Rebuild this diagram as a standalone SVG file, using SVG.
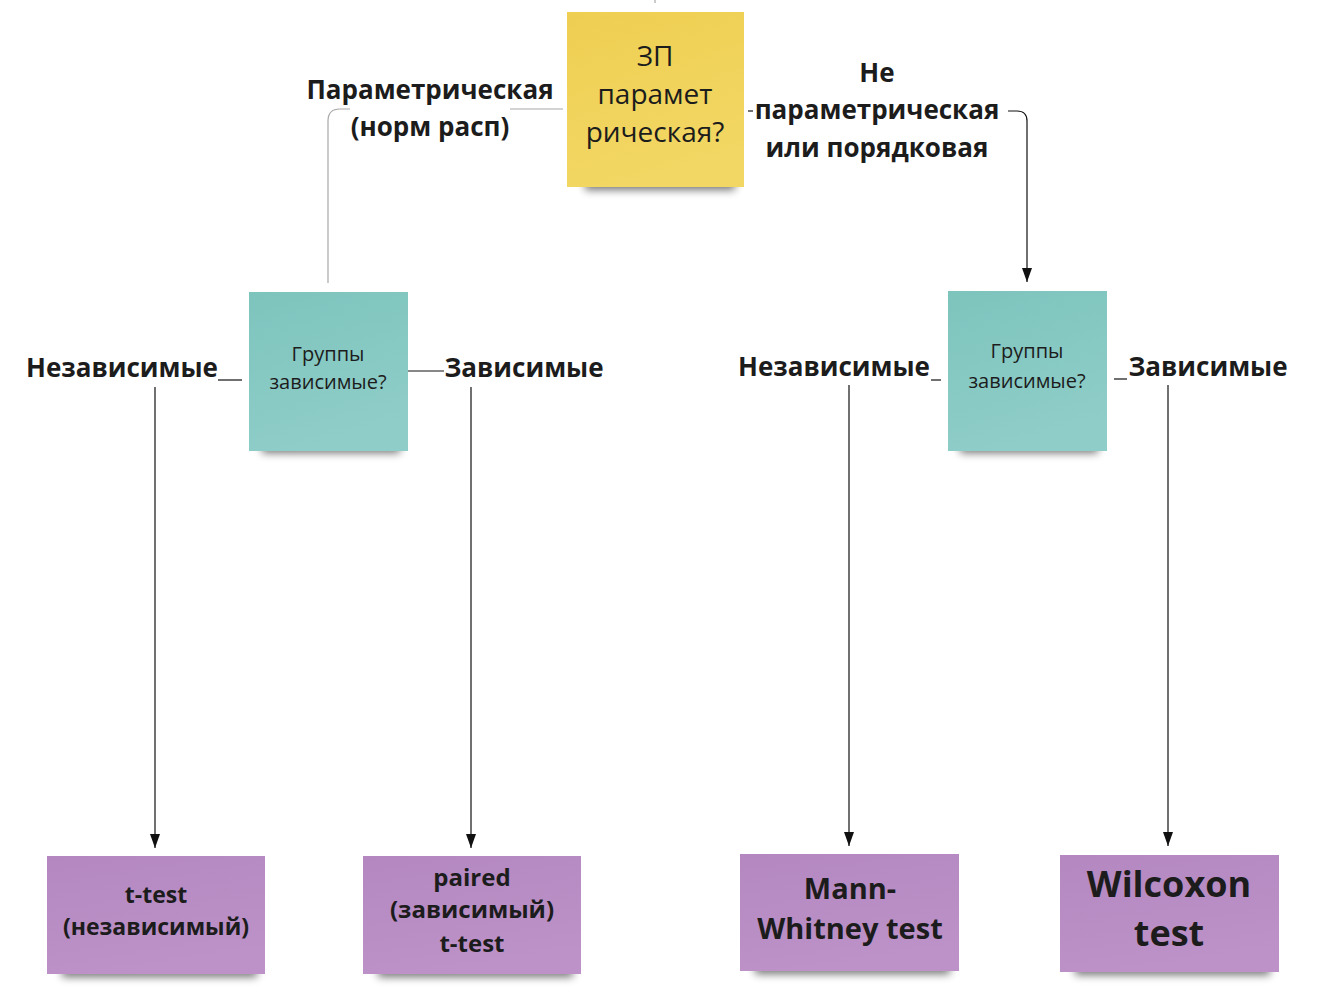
<svg xmlns="http://www.w3.org/2000/svg" width="1322" height="1006" viewBox="0 0 1322 1006">
<style>
.lbl{font-family:"Open Sans","Noto Sans","DejaVu Sans",sans-serif;font-weight:700;fill:#1c1c1c;text-anchor:middle}
.reg{font-family:"Open Sans","Noto Sans","DejaVu Sans",sans-serif;font-weight:400;fill:#1c1c1c;text-anchor:middle}
.con{fill:none;stroke:#111;stroke-width:1.2}
.grey{fill:none;stroke:#a8a8a8;stroke-width:1.2}
.shadow{fill:#000;opacity:0.55;filter:url(#blur)}
</style>
<defs>
<filter id="blur" x="-20%" y="-200%" width="140%" height="500%"><feGaussianBlur stdDeviation="4"/></filter>
<marker id="arr" markerUnits="userSpaceOnUse" markerWidth="14" markerHeight="10" refX="14" refY="5" orient="auto" viewBox="0 0 14 10"><path d="M0,0 L14,5 L0,10 Z" fill="#111"/></marker>
<linearGradient id="gy" x1="0" y1="0" x2="0.3" y2="1"><stop offset="0" stop-color="#efcf52"/><stop offset="1" stop-color="#f2d764"/></linearGradient>
<linearGradient id="gt" x1="0" y1="0" x2="0.3" y2="1"><stop offset="0" stop-color="#7dc4bd"/><stop offset="1" stop-color="#8fcdc8"/></linearGradient>
<linearGradient id="gp" x1="0" y1="0" x2="0.3" y2="1"><stop offset="0" stop-color="#b487c0"/><stop offset="1" stop-color="#bc92c8"/></linearGradient>
</defs>
<rect width="1322" height="1006" fill="#fff"/>

<g id="connectors">
<line x1="655" y1="0" x2="655" y2="3" class="grey"/>
<path class="grey" d="M563,109 H510"/>
<path class="grey" d="M350,109 H340 Q328,109 328,121 V283"/>
<path class="con" d="M748,111 H753"/>
<path class="con" d="M1008,111 H1017 Q1027,111 1027,121 V282" marker-end="url(#arr)"/>
<path class="con" d="M218,380 H242"/>
<path class="con" d="M155,387 V848" marker-end="url(#arr)"/>
<path class="con" d="M408,371 H444"/>
<path class="con" d="M471,387 V848" marker-end="url(#arr)"/>
<path class="con" d="M931,380 H941"/>
<path class="con" d="M849,385 V846" marker-end="url(#arr)"/>
<path class="con" d="M1114,379 H1127"/>
<path class="con" d="M1168,385 V846" marker-end="url(#arr)"/>
</g>

<g id="labels">
<text class="lbl" font-size="26" x="430" y="99">Параметрическая</text>
<text class="lbl" font-size="26" x="430" y="136">(норм расп)</text>
<text class="lbl" font-size="26" x="877" y="82">Не</text>
<text class="lbl" font-size="26" x="877" y="119">параметрическая</text>
<text class="lbl" font-size="26" x="877" y="157">или порядковая</text>
<text class="lbl" font-size="26" x="122" y="377">Независимые</text>
<text class="lbl" font-size="26" x="524" y="377">Зависимые</text>
<text class="lbl" font-size="26" x="834" y="376">Независимые</text>
<text class="lbl" font-size="26" x="1208" y="376">Зависимые</text>
</g>

<g id="node-zp">
<rect class="shadow" x="585" y="178" width="150" height="12"/>
<rect x="567" y="12" width="177" height="175" fill="url(#gy)"/>
<text class="reg" font-size="28" x="655" y="66">ЗП</text>
<text class="reg" font-size="28" x="655" y="104">парамет</text>
<text class="reg" font-size="28" x="655" y="142">рическая?</text>
</g>

<g id="node-groups-left">
<rect class="shadow" x="262" y="442" width="138" height="11"/>
<rect x="249" y="292" width="159" height="159" fill="url(#gt)"/>
<text class="reg" font-size="20" x="328" y="361">Группы</text>
<text class="reg" font-size="20" x="328" y="389">зависимые?</text>
</g>

<g id="node-groups-right">
<rect class="shadow" x="960" y="442" width="138" height="11"/>
<rect x="948" y="291" width="159" height="160" fill="url(#gt)"/>
<text class="reg" font-size="20" x="1027" y="358">Группы</text>
<text class="reg" font-size="20" x="1027" y="388">зависимые?</text>
</g>

<g id="node-ttest">
<rect class="shadow" x="62" y="966" width="195" height="11"/>
<rect x="47" y="856" width="218" height="118" fill="url(#gp)"/>
<text class="lbl" font-size="23" x="156" y="903">t-test</text>
<text class="lbl" font-size="23" x="156" y="935">(независимый)</text>
</g>

<g id="node-paired">
<rect class="shadow" x="378" y="966" width="195" height="11"/>
<rect x="363" y="856" width="218" height="118" fill="url(#gp)"/>
<text class="lbl" font-size="24" x="472" y="886">paired</text>
<text class="lbl" font-size="24" x="472" y="918">(зависимый)</text>
<text class="lbl" font-size="24" x="472" y="952">t-test</text>
</g>

<g id="node-mann">
<rect class="shadow" x="755" y="963" width="195" height="11"/>
<rect x="740" y="854" width="219" height="117" fill="url(#gp)"/>
<text class="lbl" font-size="29" x="850" y="899">Mann-</text>
<text class="lbl" font-size="29" x="850" y="939">Whitney test</text>
</g>

<g id="node-wilcoxon">
<rect class="shadow" x="1075" y="964" width="195" height="11"/>
<rect x="1060" y="855" width="219" height="117" fill="url(#gp)"/>
<text class="lbl" font-size="36" x="1169" y="897">Wilcoxon</text>
<text class="lbl" font-size="36" x="1169" y="946">test</text>
</g>
</svg>
